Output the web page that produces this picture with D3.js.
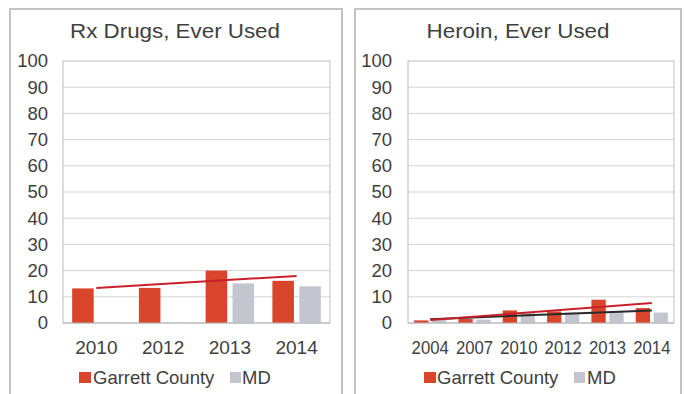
<!DOCTYPE html>
<html><head><meta charset="utf-8">
<script src="https://cdn.jsdelivr.net/npm/d3@7"></script>
<style>body{margin:0;background:#fff} svg{display:block;font-family:"Liberation Sans",Arial,sans-serif}</style>
</head><body><svg id="c" width="685" height="394"></svg>
<script>
// ---- data ----
const rxCategories = ["2010", "2012", "2013", "2014"];
const rxGarrett = [13.2, 13.4, 20, 16.1];
const rxMD = [null, null, 15.1, 14];
const heroinCategories = ["2004", "2007", "2010", "2012", "2013", "2014"];
const heroinGarrett = [1.0, 1.5, 4.8, 4.4, 8.9, 5.7];
const heroinMD = [1.2, 1.3, 3.9, 4.0, 4.3, 4.0];
const yTicks = [0, 10, 20, 30, 40, 50, 60, 70, 80, 90, 100];
const seriesNames = ["Garrett County", "MD"];
const titles = ["Rx Drugs, Ever Used", "Heroin, Ever Used"];

// ---- style ----
const colGarrett = "#d8452b", colMD = "#c3c5cf";
const colTrendRed = "#c8202a", colTrendDark = "#2a2a2a";
const textCol = "#404040";

function linreg(vals) {
  const pts = vals.map((v, i) => [i + 1, v]).filter(p => p[1] != null);
  const mx = d3.mean(pts, p => p[0]), my = d3.mean(pts, p => p[1]);
  const sxy = d3.sum(pts, p => (p[0] - mx) * (p[1] - my));
  const sxx = d3.sum(pts, p => (p[0] - mx) ** 2);
  const b = sxy / sxx, a = my - b * mx;
  return x => a + b * x;
}

const svg = d3.select("#c");

const panels = [
  {title: titles[0], cats: rxCategories, g: rxGarrett, md: rxMD,
   frame: [10, 9, 332], plot: [63, 330], titleX: 175, titleLen: 210, yLabX: 48,
   xScale: 1, trends: [{vals: rxGarrett, col: colTrendRed}],
   legend: {sq1: 79, t1: 93, sq2: 230, t2: 242}},
  {title: titles[1], cats: heroinCategories, g: heroinGarrett, md: heroinMD,
   frame: [355, 9, 326], plot: [408, 674], titleX: 518, titleLen: 183, yLabX: 392,
   xScale: 0.88, trends: [{vals: heroinMD, col: colTrendDark}, {vals: heroinGarrett, col: colTrendRed}],
   legend: {sq1: 424, t1: 437, sq2: 574, t2: 587}}
];

panels.forEach(p => {
  const G = svg.append("g");
  G.append("rect").attr("x", p.frame[0]).attr("y", p.frame[1])
    .attr("width", p.frame[2]).attr("height", 420)
    .attr("fill", "none").attr("stroke", "#b0b0b0").attr("stroke-width", 1.5);

  G.append("text").attr("x", p.titleX).attr("y", 38).attr("text-anchor", "middle")
    .attr("font-size", 20).attr("fill", textCol)
    .attr("textLength", p.titleLen).attr("lengthAdjust", "spacingAndGlyphs")
    .text(p.title);

  const y = d3.scaleLinear().domain([0, 100]).range([323, 61]);
  const x0 = d3.scaleBand().domain(p.cats).range(p.plot).padding(0);
  const x1 = d3.scaleBand().domain(seriesNames).range([0, x0.bandwidth()])
    .paddingInner(0.2).paddingOuter(0.34);

  G.append("g").selectAll("line").data(yTicks.filter(t => t > 0 && t < 100)).join("line")
    .attr("x1", p.plot[0]).attr("x2", p.plot[1])
    .attr("y1", d => y(d)).attr("y2", d => y(d))
    .attr("stroke", "#d4d4d4").attr("stroke-width", 1);
  G.append("rect").attr("x", p.plot[0]).attr("y", y(100))
    .attr("width", p.plot[1] - p.plot[0]).attr("height", y(0) - y(100))
    .attr("fill", "none").attr("stroke", "#bdbdbd").attr("stroke-width", 1);

  const yAxis = d3.axisLeft(y).tickValues(yTicks).tickSize(0).tickPadding(0);
  const ya = G.append("g").attr("transform", `translate(${p.yLabX},0)`).call(yAxis);
  ya.select(".domain").remove();
  ya.selectAll("text").attr("font-size", 18.5).attr("fill", textCol)
    .attr("font-family", '"Liberation Sans",Arial,sans-serif');

  const rows = p.cats.map((c, i) => ({c, vals: [p.g[i], p.md[i]]}));
  const bg = G.append("g");
  rows.forEach(r => {
    seriesNames.forEach((s, j) => {
      const v = r.vals[j];
      if (v == null) return;
      bg.append("rect").attr("x", x0(r.c) + x1(s)).attr("width", x1.bandwidth())
        .attr("y", y(v)).attr("height", y(0) - y(v))
        .attr("fill", j === 0 ? colGarrett : colMD);
    });
  });

  G.append("line").attr("x1", p.plot[0]).attr("x2", p.plot[1])
    .attr("y1", y(0)).attr("y2", y(0)).attr("stroke", "#b8b8b8").attr("stroke-width", 1);

  p.trends.forEach(t => {
    const f = linreg(t.vals);
    const n = p.cats.length;
    const xc = i => x0(p.cats[i - 1]) + x0.bandwidth() / 2;
    G.append("line").attr("x1", xc(1)).attr("y1", y(f(1)))
      .attr("x2", xc(n)).attr("y2", y(f(n)))
      .attr("stroke", t.col).attr("stroke-width", 2);
  });

  const xAxis = d3.axisBottom(x0).tickSize(0).tickPadding(0);
  const xa = G.append("g").attr("transform", `translate(0,340)`).call(xAxis);
  xa.select(".domain").remove();
  xa.selectAll("text").attr("font-size", 19).attr("fill", textCol)
    .attr("font-family", '"Liberation Sans",Arial,sans-serif').attr("dy", "0.71em")
    .attr("transform", `scale(${p.xScale},1)`);

  const L = p.legend;
  G.append("rect").attr("x", L.sq1).attr("y", 372).attr("width", 12).attr("height", 11).attr("fill", colGarrett);
  G.append("text").attr("x", L.t1).attr("y", 384).attr("font-size", 18.5).attr("fill", textCol).text(seriesNames[0]);
  G.append("rect").attr("x", L.sq2).attr("y", 372).attr("width", 11).attr("height", 11).attr("fill", colMD);
  G.append("text").attr("x", L.t2).attr("y", 384).attr("font-size", 18.5).attr("fill", textCol).text(seriesNames[1]);
});
</script>
</body></html>
